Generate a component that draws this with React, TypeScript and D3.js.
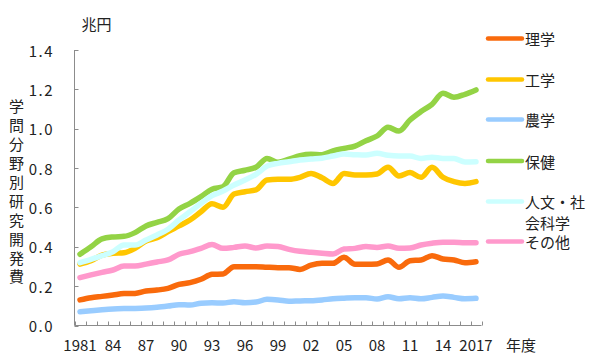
import React from "react";
import * as d3 from "d3";

const years: number[] = d3.range(1981, 2018);
const xTickLabels: string[] = ["1981", "84", "87", "90", "93", "96", "99", "02", "05", "08", "11", "14", "2017"];
const yTicks: number[] = [0, 0.2, 0.4, 0.6, 0.8, 1.0, 1.2, 1.4];

const rigaku: number[] = [0.130, 0.141, 0.148, 0.155, 0.162, 0.163, 0.175, 0.180, 0.189, 0.209, 0.218, 0.235, 0.260, 0.262, 0.299, 0.299, 0.299, 0.296, 0.294, 0.294, 0.285, 0.307, 0.316, 0.316, 0.347, 0.311, 0.311, 0.313, 0.333, 0.296, 0.329, 0.333, 0.355, 0.338, 0.333, 0.319, 0.324];
const kogaku: number[] = [0.312, 0.329, 0.358, 0.367, 0.370, 0.392, 0.429, 0.446, 0.477, 0.506, 0.536, 0.578, 0.619, 0.601, 0.668, 0.680, 0.689, 0.739, 0.743, 0.743, 0.753, 0.773, 0.751, 0.722, 0.772, 0.765, 0.765, 0.770, 0.804, 0.760, 0.777, 0.753, 0.804, 0.753, 0.731, 0.722, 0.731];
const nogaku: number[] = [0.070, 0.075, 0.080, 0.084, 0.086, 0.087, 0.089, 0.093, 0.099, 0.106, 0.104, 0.113, 0.115, 0.114, 0.121, 0.116, 0.119, 0.133, 0.130, 0.123, 0.125, 0.126, 0.130, 0.136, 0.139, 0.141, 0.141, 0.135, 0.146, 0.136, 0.141, 0.136, 0.143, 0.150, 0.143, 0.136, 0.138];
const hoken: number[] = [0.362, 0.400, 0.440, 0.450, 0.453, 0.472, 0.506, 0.524, 0.543, 0.592, 0.621, 0.655, 0.692, 0.705, 0.776, 0.789, 0.804, 0.849, 0.829, 0.845, 0.863, 0.870, 0.868, 0.887, 0.900, 0.912, 0.939, 0.963, 1.007, 0.988, 1.044, 1.087, 1.124, 1.180, 1.160, 1.175, 1.197];
const jinbun: number[] = [0.319, 0.336, 0.355, 0.375, 0.409, 0.409, 0.434, 0.460, 0.489, 0.536, 0.578, 0.621, 0.660, 0.683, 0.714, 0.739, 0.768, 0.810, 0.824, 0.832, 0.841, 0.846, 0.850, 0.861, 0.871, 0.868, 0.866, 0.875, 0.865, 0.861, 0.861, 0.849, 0.855, 0.849, 0.849, 0.831, 0.832];
const sonota: number[] = [0.243, 0.257, 0.270, 0.282, 0.302, 0.302, 0.312, 0.323, 0.333, 0.362, 0.375, 0.392, 0.411, 0.392, 0.397, 0.404, 0.394, 0.404, 0.401, 0.387, 0.377, 0.372, 0.367, 0.363, 0.389, 0.392, 0.401, 0.397, 0.404, 0.392, 0.394, 0.409, 0.418, 0.423, 0.423, 0.421, 0.421];

const seriesNames: string[] = ["理学", "工学", "農学", "保健", "人文・社会科学", "その他"];
const seriesColors: string[] = ["#F96A0C", "#FFC600", "#99CCFF", "#93D345", "#CCFFFF", "#FF99CC"];
const seriesValues: number[][] = [rigaku, kogaku, nogaku, hoken, jinbun, sonota];

const FONT = "'Noto Sans CJK JP', 'Noto Sans', sans-serif";

export default function App() {
  const W = 600, H = 359;
  const x = d3.scaleBand<number>().domain(years).range([74.5, 481.5]).paddingInner(0).paddingOuter(0);
  const y = d3.scaleLinear().domain([0, 1.4]).range([325.5, 50]);
  const cx = (yr: number) => (x(yr) as number) + x.bandwidth() / 2;
  const line = d3.line<number>()
    .x((_, i) => cx(years[i]))
    .y((v) => y(v))
    .curve(d3.curveMonotoneX);

  const axisColor = "#8c8c8c";
  const labelYears = [1981, 1984, 1987, 1990, 1993, 1996, 1999, 2002, 2005, 2008, 2011, 2014, 2017];
  const boundaries = d3.range(years.length + 1).map((i) => 74.5 + i * x.bandwidth());

  const legendY = [38.5, 79.5, 119.5, 161, 201.5, 241.5];

  return (
    <div style={{ position: "absolute", left: 0, top: 0 }}>
      <svg width={W} height={H} style={{ display: "block", background: "#ffffff" }}>
        {/* y axis */}
        <line x1={74.5} x2={74.5} y1={y(1.4)} y2={y(0)} stroke={axisColor} strokeWidth={1} />
        {yTicks.map((t) => (
          <g key={t}>
            <line x1={74.5} x2={78.5} y1={Math.round(y(t)) + 0.5} y2={Math.round(y(t)) + 0.5} stroke={axisColor} />
            <text x={54} y={y(t)} textAnchor="end" dominantBaseline="central" fontSize={15} fontFamily={FONT} letterSpacing={1.5} fill="#222">
              {t.toFixed(1)}
            </text>
          </g>
        ))}
        {/* x axis */}
        <line x1={74.5} x2={481.5} y1={325.5} y2={325.5} stroke={axisColor} strokeWidth={1} />
        {boundaries.map((bx, i) => (
          <line key={i} x1={Math.round(bx) + 0.5} x2={Math.round(bx) + 0.5} y1={325.5} y2={321.5} stroke={axisColor} />
        ))}
        {labelYears.map((yr, i) => (
          <text key={yr} x={cx(yr)} y={344} textAnchor="middle" dominantBaseline="central" fontSize={15} fontFamily={FONT} fill="#222">
            {xTickLabels[i]}
          </text>
        ))}
        <text x={521} y={344} textAnchor="middle" dominantBaseline="central" fontSize={15} fontFamily={FONT} fill="#222">年度</text>
        <text x={96.5} y={23.5} textAnchor="middle" dominantBaseline="central" fontSize={15} fontFamily={FONT} fill="#222">兆円</text>
        <text x={16.5} y={99.2} style={{ writingMode: "vertical-rl" }} fontSize={15} fontFamily={FONT} letterSpacing={3.9} fill="#222">
          学問分野別研究開発費
        </text>
        {/* lines */}
        {seriesValues.map((vals, s) => (
          <path key={s} d={line(vals) || ""} fill="none" stroke={seriesColors[s]} strokeWidth={5.5} strokeLinecap="round" strokeLinejoin="round" />
        ))}
        {/* legend */}
        {seriesNames.map((name, s) => (
          <g key={name}>
            <line x1={488} x2={522} y1={legendY[s]} y2={legendY[s]} stroke={seriesColors[s]} strokeWidth={4.5} strokeLinecap="round" />
            {s === 4 ? (
              <>
                <text x={525} y={legendY[s]} dominantBaseline="central" fontSize={15} fontFamily={FONT} fill="#222">人文・社</text>
                <text x={525} y={legendY[s] + 21} dominantBaseline="central" fontSize={15} fontFamily={FONT} fill="#222">会科学</text>
              </>
            ) : (
              <text x={525} y={legendY[s]} dominantBaseline="central" fontSize={15} fontFamily={FONT} fill="#222">{name}</text>
            )}
          </g>
        ))}
      </svg>
    </div>
  );
}
